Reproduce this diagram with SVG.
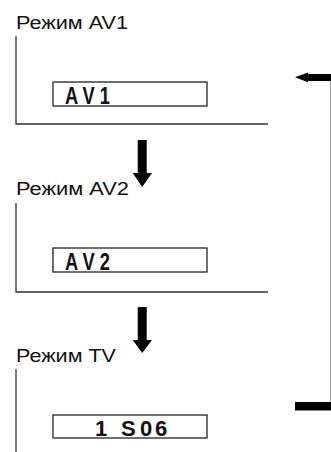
<svg xmlns="http://www.w3.org/2000/svg" width="331" height="452" viewBox="0 0 331 452">
<style>
.lbl{font-family:"Liberation Sans",Arial,sans-serif;font-size:18px;fill:#111}
.disp{font-family:"Liberation Sans",Arial,sans-serif;font-size:23px;font-weight:bold;fill:#111}
.frame{fill:none;stroke:#333;stroke-width:1.3}
.box{fill:#fff;stroke:#222;stroke-width:1.3}
.thin{fill:none;stroke:#999;stroke-width:1}
.blk{fill:#000}
</style>
<rect width="331" height="452" fill="#fff"/>
<g id="mode-av1">
<text class="lbl" x="16" y="29" textLength="112" lengthAdjust="spacingAndGlyphs">Режим AV1</text>
<path class="frame" d="M16 36 V124 H268"/>
<rect class="box" x="53" y="82" width="154" height="24"/>
<text class="disp" x="65" y="104" textLength="45" lengthAdjust="spacingAndGlyphs">A V 1</text>
</g>
<g id="mode-av2">
<text class="lbl" x="16" y="195" textLength="113" lengthAdjust="spacingAndGlyphs">Режим AV2</text>
<path class="frame" d="M16 203 V292 H268"/>
<rect class="box" x="53" y="248" width="154" height="24"/>
<text class="disp" x="65" y="270" textLength="45" lengthAdjust="spacingAndGlyphs">A V 2</text>
</g>
<g id="mode-tv">
<text class="lbl" x="16" y="362" textLength="100" lengthAdjust="spacingAndGlyphs">Режим TV</text>
<path class="frame" d="M16 369 V452"/>
<rect class="box" x="53" y="415" width="154" height="23"/>
<text class="disp" style="font-size:22px" x="95 108 121 140 155" y="436">1 S06</text>
</g>
<g id="connectors">
<polygon class="blk" points="137.7,140 146.7,140 146.7,173 152,173 142.2,187 132.7,173 137.7,173"/>
<polygon class="blk" points="137.7,307 146.7,307 146.7,340 152,340 142.2,353 132.7,340 137.7,340"/>
<path class="thin" d="M330.5 80 V402"/>
<polygon class="blk" points="331,74 308,74 308,72.5 295,77.3 308,82.3 308,81 331,81"/>
<rect class="blk" x="295" y="402" width="36" height="8.5"/>
</g>
</svg>
